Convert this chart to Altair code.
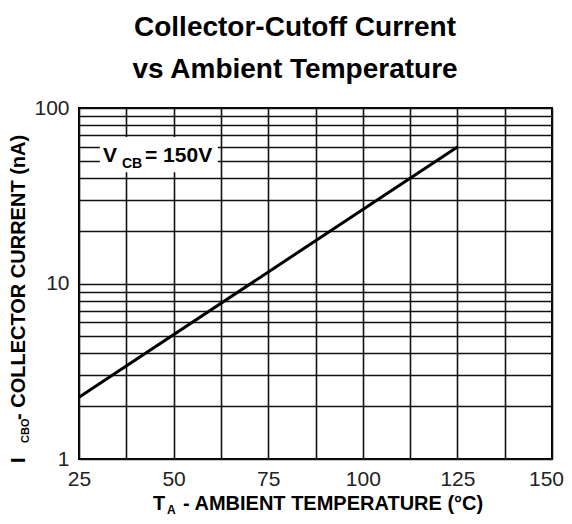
import altair as alt
import pandas as pd

# ---- data ----
temps = [25, 125]            # T_A (°C)
currents = [2.25, 60]        # I_CBO (nA)
x_grid = [25, 37.5, 50, 62.5, 75, 87.5, 100, 112.5, 125, 137.5, 150]
y_grid = [1, 2, 3, 4, 5, 6, 7, 8, 9, 10, 20, 30, 40, 50, 60, 70, 80, 90, 100]
title_lines = ["Collector-Cutoff Current", "vs Ambient Temperature"]
annot_box_x = [30.5, 61.7]
annot_box_y = [43.0, 68.4]

FONT = "Liberation Sans"

line_df = pd.DataFrame({"T": temps, "I": currents})
box_df = pd.DataFrame({"x0": [annot_box_x[0]], "x1": [annot_box_x[1]],
                       "y0": [annot_box_y[0]], "y1": [annot_box_y[1]]})

x_enc = alt.X(
    "T:Q",
    scale=alt.Scale(domain=[25, 150], nice=False, zero=False),
    axis=alt.Axis(values=x_grid, labelExpr="datum.value % 25 == 0 ? datum.label : ''",
                  title=None, ticks=False, domain=False, grid=True, gridColor="#111",
                  gridWidth=1.6, labelFontSize=21, labelFont=FONT, labelColor="#222",
                  labelPadding=9, labelFlush=False, labelOverlap=False,
                  labelOffset={"condition": {"test": "datum.value == 150", "value": -6}, "value": 0}),
)
y_enc = alt.Y(
    "I:Q",
    scale=alt.Scale(type="log", domain=[1, 100], nice=False),
    axis=alt.Axis(values=y_grid,
                  labelExpr="(datum.value == 1 || datum.value == 10 || datum.value == 100) ? format(datum.value, 'd') : ''",
                  title=None, ticks=False, domain=False, grid=True, gridColor="#111",
                  gridWidth=1.6, labelFontSize=21, labelFont=FONT, labelColor="#222",
                  labelPadding=10, labelFlush=False, labelOverlap=False, labelBaseline="middle"),
)

base = alt.Chart(line_df)
line = base.mark_line(color="black", strokeWidth=3).encode(x=x_enc, y=y_enc)

box = alt.Chart(box_df).mark_rect(color="white").encode(
    x="x0:Q", x2="x1:Q", y="y0:Q", y2="y1:Q")


def label(text, px, py, size, bold=True, angle=0, align="left", baseline="alphabetic", color="black"):
    kw = dict(font=FONT, fontSize=size, fontWeight="bold" if bold else "normal",
              align=align, baseline=baseline, color=color)
    if angle:
        kw["angle"] = angle
    return alt.Chart(pd.DataFrame({"t": [text]})).mark_text(**kw).encode(
        text="t:N", x=alt.value(px), y=alt.value(py))


layers = [
    line, box,
    # annotation V_CB = 150V
    label("V", 24, 54, 21),
    label("CB", 43, 60, 14),
    label("= 150V", 66, 54, 21),
    # title
    label(title_lines[0], 216, -72, 28, align="center"),
    label(title_lines[1], 216, -30, 28, align="center"),
    # x axis title
    label("T", 74, 402, 20),
    label("A", 88, 406, 12),
    label("- AMBIENT TEMPERATURE (°C)", 104, 402, 20),
    # y axis title (rotated)
    label("I", -54, 355, 20, angle=270),
    label("CBO", -50, 335, 11, angle=270),
    label("- COLLECTOR CURRENT (nA)", -54, 312, 20, angle=270),
]

chart = alt.layer(*layers).properties(
    width=473, height=351,
    autosize=alt.AutoSizeParams(type="none"),
    padding={"left": 71, "top": 100, "right": 12, "bottom": 57},
    background="white",
).configure_view(stroke="black", strokeWidth=2)

chart.save("out.html", embed_options={"renderer": "svg", "actions": False})
